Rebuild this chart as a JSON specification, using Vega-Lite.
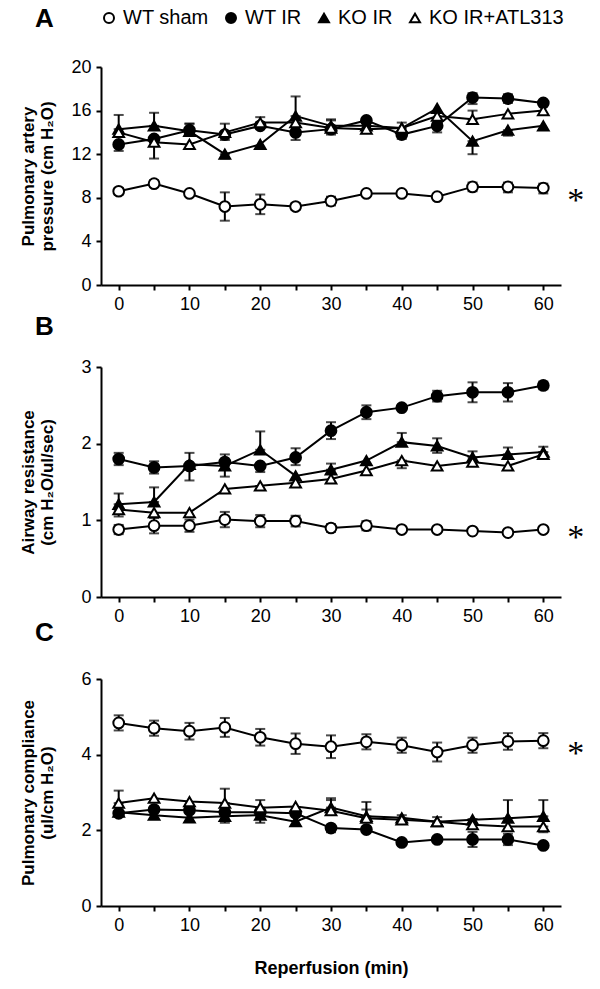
{
  "$schema": "https://vega.github.io/schema/vega-lite/v6.json",
  "padding": {"left": 18, "top": 6, "right": 5, "bottom": 5},
  "background": "white",
  "config": {
    "view": {"stroke": null},
    "font": "Liberation Sans",
    "axis": {"grid": false, "domainColor": "black", "domainWidth": 2, "tickColor": "black", "tickWidth": 2, "tickSize": 5, "labelFontSize": 18, "labelColor": "black", "labelPadding": 5, "titleFontSize": 17, "titleFontWeight": "bold", "titleColor": "black", "titleLineHeight": 19},
    "legend": {"orient": "none", "legendX": -2, "legendY": -59, "direction": "horizontal", "columns": 4, "labelFontSize": 20, "labelColor": "black", "symbolSize": 100, "symbolStrokeWidth": 2, "columnPadding": 12, "labelOffset": 4, "padding": 0},
    "title": {"fontSize": 26, "fontWeight": "bold", "color": "black", "anchor": "start", "frame": "group"}
  },
  "datasets": {
    "A": [
      {"g": "WT sham", "t": 0, "v": 8.6, "lo": 8.3, "hi": 8.9},
      {"g": "WT sham", "t": 5, "v": 9.3, "lo": 9.0, "hi": 9.6},
      {"g": "WT sham", "t": 10, "v": 8.4, "lo": 8.2, "hi": 8.6},
      {"g": "WT sham", "t": 15, "v": 7.2, "lo": 5.9, "hi": 8.5},
      {"g": "WT sham", "t": 20, "v": 7.4, "lo": 6.5, "hi": 8.3},
      {"g": "WT sham", "t": 25, "v": 7.2, "lo": 6.9, "hi": 7.5},
      {"g": "WT sham", "t": 30, "v": 7.7, "lo": 7.3, "hi": 8.1},
      {"g": "WT sham", "t": 35, "v": 8.4, "lo": 8.2, "hi": 8.6},
      {"g": "WT sham", "t": 40, "v": 8.4, "lo": 8.2, "hi": 8.6},
      {"g": "WT sham", "t": 45, "v": 8.1, "lo": 7.9, "hi": 8.3},
      {"g": "WT sham", "t": 50, "v": 9.0, "lo": 8.6, "hi": 9.4},
      {"g": "WT sham", "t": 55, "v": 9.0, "lo": 8.5, "hi": 9.4},
      {"g": "WT sham", "t": 60, "v": 8.9, "lo": 8.4, "hi": 9.3},
      {"g": "WT IR", "t": 0, "v": 12.9, "lo": 12.3, "hi": 12.9},
      {"g": "WT IR", "t": 5, "v": 13.4},
      {"g": "WT IR", "t": 10, "v": 14.2, "lo": 14.2, "hi": 14.8},
      {"g": "WT IR", "t": 15, "v": 13.8, "lo": 13.3, "hi": 13.8},
      {"g": "WT IR", "t": 20, "v": 14.6},
      {"g": "WT IR", "t": 25, "v": 14.0, "lo": 13.3, "hi": 14.0},
      {"g": "WT IR", "t": 30, "v": 14.3, "lo": 13.8, "hi": 14.3},
      {"g": "WT IR", "t": 35, "v": 15.1},
      {"g": "WT IR", "t": 40, "v": 13.8, "lo": 13.4, "hi": 13.8},
      {"g": "WT IR", "t": 45, "v": 14.6, "lo": 14.0, "hi": 14.6},
      {"g": "WT IR", "t": 50, "v": 17.2, "lo": 16.6, "hi": 17.6},
      {"g": "WT IR", "t": 55, "v": 17.1, "lo": 16.7, "hi": 17.5},
      {"g": "WT IR", "t": 60, "v": 16.7},
      {"g": "KO IR", "t": 0, "v": 14.3, "lo": 14.3, "hi": 15.6},
      {"g": "KO IR", "t": 5, "v": 14.6, "lo": 14.6, "hi": 15.8},
      {"g": "KO IR", "t": 10, "v": 14.1, "lo": 14.1, "hi": 14.8},
      {"g": "KO IR", "t": 15, "v": 12.0, "lo": 11.6, "hi": 12.0},
      {"g": "KO IR", "t": 20, "v": 12.9},
      {"g": "KO IR", "t": 25, "v": 15.5, "lo": 15.5, "hi": 17.3},
      {"g": "KO IR", "t": 30, "v": 14.6, "lo": 14.6, "hi": 15.1},
      {"g": "KO IR", "t": 35, "v": 14.6},
      {"g": "KO IR", "t": 40, "v": 14.4},
      {"g": "KO IR", "t": 45, "v": 16.2},
      {"g": "KO IR", "t": 50, "v": 13.2, "lo": 12.0, "hi": 13.2},
      {"g": "KO IR", "t": 55, "v": 14.2, "lo": 13.7, "hi": 14.2},
      {"g": "KO IR", "t": 60, "v": 14.6},
      {"g": "KO IR+ATL313", "t": 0, "v": 14.0},
      {"g": "KO IR+ATL313", "t": 5, "v": 13.1, "lo": 11.6, "hi": 13.1},
      {"g": "KO IR+ATL313", "t": 10, "v": 12.9},
      {"g": "KO IR+ATL313", "t": 15, "v": 14.0, "lo": 14.0, "hi": 14.8},
      {"g": "KO IR+ATL313", "t": 20, "v": 14.9, "lo": 14.9, "hi": 15.4},
      {"g": "KO IR+ATL313", "t": 25, "v": 14.9},
      {"g": "KO IR+ATL313", "t": 30, "v": 14.4, "lo": 14.4, "hi": 15.2},
      {"g": "KO IR+ATL313", "t": 35, "v": 14.3},
      {"g": "KO IR+ATL313", "t": 40, "v": 14.4, "lo": 14.4, "hi": 14.9},
      {"g": "KO IR+ATL313", "t": 45, "v": 15.5},
      {"g": "KO IR+ATL313", "t": 50, "v": 15.2, "lo": 15.2, "hi": 16.0},
      {"g": "KO IR+ATL313", "t": 55, "v": 15.7},
      {"g": "KO IR+ATL313", "t": 60, "v": 16.0}
    ],
    "B": [
      {"g": "WT sham", "t": 0, "v": 0.88, "lo": 0.82, "hi": 0.94},
      {"g": "WT sham", "t": 5, "v": 0.93, "lo": 0.83, "hi": 1.03},
      {"g": "WT sham", "t": 10, "v": 0.93, "lo": 0.85, "hi": 1.01},
      {"g": "WT sham", "t": 15, "v": 1.01, "lo": 0.91, "hi": 1.11},
      {"g": "WT sham", "t": 20, "v": 0.99, "lo": 0.91, "hi": 1.07},
      {"g": "WT sham", "t": 25, "v": 0.99, "lo": 0.92, "hi": 1.06},
      {"g": "WT sham", "t": 30, "v": 0.90, "lo": 0.85, "hi": 0.95},
      {"g": "WT sham", "t": 35, "v": 0.93, "lo": 0.87, "hi": 0.99},
      {"g": "WT sham", "t": 40, "v": 0.88, "lo": 0.85, "hi": 0.91},
      {"g": "WT sham", "t": 45, "v": 0.88, "lo": 0.85, "hi": 0.91},
      {"g": "WT sham", "t": 50, "v": 0.86, "lo": 0.83, "hi": 0.89},
      {"g": "WT sham", "t": 55, "v": 0.84, "lo": 0.81, "hi": 0.87},
      {"g": "WT sham", "t": 60, "v": 0.88, "lo": 0.85, "hi": 0.91},
      {"g": "WT IR", "t": 0, "v": 1.80, "lo": 1.72, "hi": 1.88},
      {"g": "WT IR", "t": 5, "v": 1.69, "lo": 1.61, "hi": 1.77},
      {"g": "WT IR", "t": 10, "v": 1.71, "lo": 1.71, "hi": 1.88},
      {"g": "WT IR", "t": 15, "v": 1.76, "lo": 1.76, "hi": 1.86},
      {"g": "WT IR", "t": 20, "v": 1.71, "lo": 1.63, "hi": 1.71},
      {"g": "WT IR", "t": 25, "v": 1.82, "lo": 1.72, "hi": 1.94},
      {"g": "WT IR", "t": 30, "v": 2.17, "lo": 2.06, "hi": 2.28},
      {"g": "WT IR", "t": 35, "v": 2.41, "lo": 2.32, "hi": 2.50},
      {"g": "WT IR", "t": 40, "v": 2.47},
      {"g": "WT IR", "t": 45, "v": 2.62, "lo": 2.55, "hi": 2.69},
      {"g": "WT IR", "t": 50, "v": 2.67, "lo": 2.54, "hi": 2.80},
      {"g": "WT IR", "t": 55, "v": 2.67, "lo": 2.55, "hi": 2.79},
      {"g": "WT IR", "t": 60, "v": 2.76, "lo": 2.71, "hi": 2.81},
      {"g": "KO IR", "t": 0, "v": 1.21, "lo": 1.21, "hi": 1.35},
      {"g": "KO IR", "t": 5, "v": 1.24, "lo": 1.24, "hi": 1.43},
      {"g": "KO IR", "t": 10, "v": 1.73, "lo": 1.52, "hi": 1.73},
      {"g": "KO IR", "t": 15, "v": 1.71, "lo": 1.57, "hi": 1.71},
      {"g": "KO IR", "t": 20, "v": 1.92, "lo": 1.92, "hi": 2.16},
      {"g": "KO IR", "t": 25, "v": 1.58},
      {"g": "KO IR", "t": 30, "v": 1.66, "lo": 1.66, "hi": 1.74},
      {"g": "KO IR", "t": 35, "v": 1.78},
      {"g": "KO IR", "t": 40, "v": 2.02, "lo": 2.02, "hi": 2.14},
      {"g": "KO IR", "t": 45, "v": 1.97, "lo": 1.88, "hi": 2.07},
      {"g": "KO IR", "t": 50, "v": 1.82, "lo": 1.82, "hi": 1.90},
      {"g": "KO IR", "t": 55, "v": 1.86, "lo": 1.86, "hi": 1.95},
      {"g": "KO IR", "t": 60, "v": 1.89, "lo": 1.89, "hi": 1.96},
      {"g": "KO IR+ATL313", "t": 0, "v": 1.14, "lo": 1.05, "hi": 1.14},
      {"g": "KO IR+ATL313", "t": 5, "v": 1.10},
      {"g": "KO IR+ATL313", "t": 10, "v": 1.10},
      {"g": "KO IR+ATL313", "t": 15, "v": 1.41},
      {"g": "KO IR+ATL313", "t": 20, "v": 1.45},
      {"g": "KO IR+ATL313", "t": 25, "v": 1.49},
      {"g": "KO IR+ATL313", "t": 30, "v": 1.54},
      {"g": "KO IR+ATL313", "t": 35, "v": 1.65},
      {"g": "KO IR+ATL313", "t": 40, "v": 1.78, "lo": 1.68, "hi": 1.78},
      {"g": "KO IR+ATL313", "t": 45, "v": 1.71},
      {"g": "KO IR+ATL313", "t": 50, "v": 1.76},
      {"g": "KO IR+ATL313", "t": 55, "v": 1.71},
      {"g": "KO IR+ATL313", "t": 60, "v": 1.86}
    ],
    "C": [
      {"g": "WT sham", "t": 0, "v": 4.84, "lo": 4.64, "hi": 5.04},
      {"g": "WT sham", "t": 5, "v": 4.70, "lo": 4.50, "hi": 4.90},
      {"g": "WT sham", "t": 10, "v": 4.62, "lo": 4.40, "hi": 4.84},
      {"g": "WT sham", "t": 15, "v": 4.72, "lo": 4.47, "hi": 4.97},
      {"g": "WT sham", "t": 20, "v": 4.46, "lo": 4.24, "hi": 4.68},
      {"g": "WT sham", "t": 25, "v": 4.29, "lo": 4.02, "hi": 4.56},
      {"g": "WT sham", "t": 30, "v": 4.21, "lo": 3.91, "hi": 4.51},
      {"g": "WT sham", "t": 35, "v": 4.34, "lo": 4.14, "hi": 4.54},
      {"g": "WT sham", "t": 40, "v": 4.25, "lo": 4.05, "hi": 4.45},
      {"g": "WT sham", "t": 45, "v": 4.07, "lo": 3.82, "hi": 4.32},
      {"g": "WT sham", "t": 50, "v": 4.25, "lo": 4.05, "hi": 4.45},
      {"g": "WT sham", "t": 55, "v": 4.35, "lo": 4.13, "hi": 4.57},
      {"g": "WT sham", "t": 60, "v": 4.37, "lo": 4.17, "hi": 4.57},
      {"g": "WT IR", "t": 0, "v": 2.45},
      {"g": "WT IR", "t": 5, "v": 2.55},
      {"g": "WT IR", "t": 10, "v": 2.53},
      {"g": "WT IR", "t": 15, "v": 2.48},
      {"g": "WT IR", "t": 20, "v": 2.48},
      {"g": "WT IR", "t": 25, "v": 2.45},
      {"g": "WT IR", "t": 30, "v": 2.06, "lo": 1.95, "hi": 2.06},
      {"g": "WT IR", "t": 35, "v": 2.02},
      {"g": "WT IR", "t": 40, "v": 1.68},
      {"g": "WT IR", "t": 45, "v": 1.76},
      {"g": "WT IR", "t": 50, "v": 1.76, "lo": 1.56, "hi": 1.96},
      {"g": "WT IR", "t": 55, "v": 1.76, "lo": 1.61, "hi": 1.91},
      {"g": "WT IR", "t": 60, "v": 1.60},
      {"g": "KO IR", "t": 0, "v": 2.48},
      {"g": "KO IR", "t": 5, "v": 2.40},
      {"g": "KO IR", "t": 10, "v": 2.33},
      {"g": "KO IR", "t": 15, "v": 2.37, "lo": 2.20, "hi": 2.37},
      {"g": "KO IR", "t": 20, "v": 2.40, "lo": 2.20, "hi": 2.40},
      {"g": "KO IR", "t": 25, "v": 2.23},
      {"g": "KO IR", "t": 30, "v": 2.60, "lo": 2.60, "hi": 2.85},
      {"g": "KO IR", "t": 35, "v": 2.37, "lo": 2.37, "hi": 2.75},
      {"g": "KO IR", "t": 40, "v": 2.33},
      {"g": "KO IR", "t": 45, "v": 2.23},
      {"g": "KO IR", "t": 50, "v": 2.28},
      {"g": "KO IR", "t": 55, "v": 2.32, "lo": 2.32, "hi": 2.80},
      {"g": "KO IR", "t": 60, "v": 2.37, "lo": 2.37, "hi": 2.80},
      {"g": "KO IR+ATL313", "t": 0, "v": 2.72, "lo": 2.72, "hi": 3.05},
      {"g": "KO IR+ATL313", "t": 5, "v": 2.85},
      {"g": "KO IR+ATL313", "t": 10, "v": 2.76},
      {"g": "KO IR+ATL313", "t": 15, "v": 2.72, "lo": 2.72, "hi": 3.10},
      {"g": "KO IR+ATL313", "t": 20, "v": 2.60, "lo": 2.60, "hi": 2.80},
      {"g": "KO IR+ATL313", "t": 25, "v": 2.63},
      {"g": "KO IR+ATL313", "t": 30, "v": 2.52, "lo": 2.52, "hi": 2.80},
      {"g": "KO IR+ATL313", "t": 35, "v": 2.32, "lo": 2.32, "hi": 2.55},
      {"g": "KO IR+ATL313", "t": 40, "v": 2.28, "lo": 2.28, "hi": 2.40},
      {"g": "KO IR+ATL313", "t": 45, "v": 2.23, "lo": 2.23, "hi": 2.35},
      {"g": "KO IR+ATL313", "t": 50, "v": 2.15, "lo": 2.15, "hi": 2.30},
      {"g": "KO IR+ATL313", "t": 55, "v": 2.10},
      {"g": "KO IR+ATL313", "t": 60, "v": 2.10, "lo": 1.95, "hi": 2.10}
    ],
    "starA": [{"t": 64.6, "v": 8.35, "s": "*"}],
    "starB": [{"t": 64.6, "v": 0.86, "s": "*"}],
    "starC": [{"t": 64.6, "v": 4.2, "s": "*"}]
  },
  "spacing": 82,
  "bounds": "flush",
  "vconcat": [
    {
      "width": 460, "height": 218,
      "title": {"text": "A", "dx": -66, "offset": 26},
      "data": {"name": "A"},
      "encoding": {
        "x": {"field": "t", "type": "quantitative", "scale": {"domain": [-2.5, 62.5], "nice": false, "zero": false},
              "axis": {"title": null, "values": [0, 5, 10, 15, 20, 25, 30, 35, 40, 45, 50, 55, 60], "labelExpr": "datum.value % 10 === 0 ? datum.label : ''"}}
      },
      "layer": [
        {"mark": {"type": "line", "color": "black", "strokeWidth": 2},
         "encoding": {"y": {"field": "v", "type": "quantitative", "scale": {"domain": [0, 20], "nice": false}, "axis": {"title": ["Pulmonary artery", "pressure (cm H₂O)"], "titleX": -64, "titleY": 109, "values": [0, 2, 4, 6, 8, 10, 12, 14, 16, 18, 20], "labelExpr": "datum.value % 4 === 0 ? datum.label : ''"}}, "detail": {"field": "g"}}},
        {"transform": [{"filter": "isValid(datum.lo)"}],
         "mark": {"type": "errorbar", "ticks": {"size": 10, "thickness": 2, "color": "black"}, "rule": {"strokeWidth": 2, "color": "black"}},
         "encoding": {"y": {"field": "lo", "type": "quantitative", "title": ["Pulmonary artery", "pressure (cm H₂O)"]}, "y2": {"field": "hi"}}},
        {"mark": {"type": "point", "filled": true, "strokeWidth": 2, "size": 115, "opacity": 1},
         "encoding": {"y": {"field": "v", "type": "quantitative"},
           "shape": {"field": "g", "type": "nominal", "scale": {"domain": ["WT sham", "WT IR", "KO IR", "KO IR+ATL313"], "range": ["circle", "circle", "triangle-up", "triangle-up"]}, "legend": {"title": null}},
           "fill": {"field": "g", "type": "nominal", "scale": {"domain": ["WT sham", "WT IR", "KO IR", "KO IR+ATL313"], "range": ["white", "black", "black", "white"]}, "legend": {"title": null}},
           "stroke": {"field": "g", "type": "nominal", "scale": {"domain": ["WT sham", "WT IR", "KO IR", "KO IR+ATL313"], "range": ["black", "black", "black", "black"]}, "legend": {"title": null}}}},
        {"data": {"name": "starA"}, "mark": {"type": "text", "font": "Liberation Serif", "fontSize": 34, "baseline": "middle", "dy": 7, "color": "black"},
         "encoding": {"y": {"field": "v", "type": "quantitative"}, "text": {"field": "s"}}}
      ]
    },
    {
      "width": 460, "height": 230,
      "title": {"text": "B", "dx": -66, "offset": 18},
      "data": {"name": "B"},
      "encoding": {
        "x": {"field": "t", "type": "quantitative", "scale": {"domain": [-2.5, 62.5], "nice": false, "zero": false},
              "axis": {"title": null, "values": [0, 5, 10, 15, 20, 25, 30, 35, 40, 45, 50, 55, 60], "labelExpr": "datum.value % 10 === 0 ? datum.label : ''"}}
      },
      "layer": [
        {"mark": {"type": "line", "color": "black", "strokeWidth": 2},
         "encoding": {"y": {"field": "v", "type": "quantitative", "scale": {"domain": [0, 3], "nice": false}, "axis": {"title": ["Airway resistance", "(cm H₂O/ul/sec)"], "titleX": -64, "titleY": 115, "format": "d", "values": [0, 0.5, 1, 1.5, 2, 2.5, 3], "labelExpr": "datum.value % 1 === 0 ? datum.label : ''"}}, "detail": {"field": "g"}}},
        {"transform": [{"filter": "isValid(datum.lo)"}],
         "mark": {"type": "errorbar", "ticks": {"size": 10, "thickness": 2, "color": "black"}, "rule": {"strokeWidth": 2, "color": "black"}},
         "encoding": {"y": {"field": "lo", "type": "quantitative", "title": ["Airway resistance", "(cm H₂O/ul/sec)"]}, "y2": {"field": "hi"}}},
        {"mark": {"type": "point", "filled": true, "strokeWidth": 2, "size": 115, "opacity": 1},
         "encoding": {"y": {"field": "v", "type": "quantitative"},
           "shape": {"field": "g", "type": "nominal", "scale": {"domain": ["WT sham", "WT IR", "KO IR", "KO IR+ATL313"], "range": ["circle", "circle", "triangle-up", "triangle-up"]}, "legend": {"title": null}},
           "fill": {"field": "g", "type": "nominal", "scale": {"domain": ["WT sham", "WT IR", "KO IR", "KO IR+ATL313"], "range": ["white", "black", "black", "white"]}, "legend": {"title": null}},
           "stroke": {"field": "g", "type": "nominal", "scale": {"domain": ["WT sham", "WT IR", "KO IR", "KO IR+ATL313"], "range": ["black", "black", "black", "black"]}, "legend": {"title": null}}}},
        {"data": {"name": "starB"}, "mark": {"type": "text", "font": "Liberation Serif", "fontSize": 34, "baseline": "middle", "dy": 7, "color": "black"},
         "encoding": {"y": {"field": "v", "type": "quantitative"}, "text": {"field": "s"}}}
      ]
    },
    {
      "width": 460, "height": 227,
      "title": {"text": "C", "dx": -66, "offset": 24},
      "data": {"name": "C"},
      "encoding": {
        "x": {"field": "t", "type": "quantitative", "scale": {"domain": [-2.5, 62.5], "nice": false, "zero": false},
              "axis": {"title": "Reperfusion (min)", "titleFontSize": 18, "titlePadding": 25, "values": [0, 5, 10, 15, 20, 25, 30, 35, 40, 45, 50, 55, 60], "labelExpr": "datum.value % 10 === 0 ? datum.label : ''"}}
      },
      "layer": [
        {"mark": {"type": "line", "color": "black", "strokeWidth": 2},
         "encoding": {"y": {"field": "v", "type": "quantitative", "scale": {"domain": [0, 6], "nice": false}, "axis": {"title": ["Pulmonary compliance", "(ul/cm H₂O)"], "titleX": -64, "titleY": 113.5, "values": [0, 1, 2, 3, 4, 5, 6]}}, "detail": {"field": "g"}}},
        {"transform": [{"filter": "isValid(datum.lo)"}],
         "mark": {"type": "errorbar", "ticks": {"size": 10, "thickness": 2, "color": "black"}, "rule": {"strokeWidth": 2, "color": "black"}},
         "encoding": {"y": {"field": "lo", "type": "quantitative", "title": ["Pulmonary compliance", "(ul/cm H₂O)"]}, "y2": {"field": "hi"}}},
        {"mark": {"type": "point", "filled": true, "strokeWidth": 2, "size": 115, "opacity": 1},
         "encoding": {"y": {"field": "v", "type": "quantitative"},
           "shape": {"field": "g", "type": "nominal", "scale": {"domain": ["WT sham", "WT IR", "KO IR", "KO IR+ATL313"], "range": ["circle", "circle", "triangle-up", "triangle-up"]}, "legend": {"title": null}},
           "fill": {"field": "g", "type": "nominal", "scale": {"domain": ["WT sham", "WT IR", "KO IR", "KO IR+ATL313"], "range": ["white", "black", "black", "white"]}, "legend": {"title": null}},
           "stroke": {"field": "g", "type": "nominal", "scale": {"domain": ["WT sham", "WT IR", "KO IR", "KO IR+ATL313"], "range": ["black", "black", "black", "black"]}, "legend": {"title": null}}}},
        {"data": {"name": "starC"}, "mark": {"type": "text", "font": "Liberation Serif", "fontSize": 34, "baseline": "middle", "dy": 7, "color": "black"},
         "encoding": {"y": {"field": "v", "type": "quantitative"}, "text": {"field": "s"}}}
      ]
    }
  ]
}
